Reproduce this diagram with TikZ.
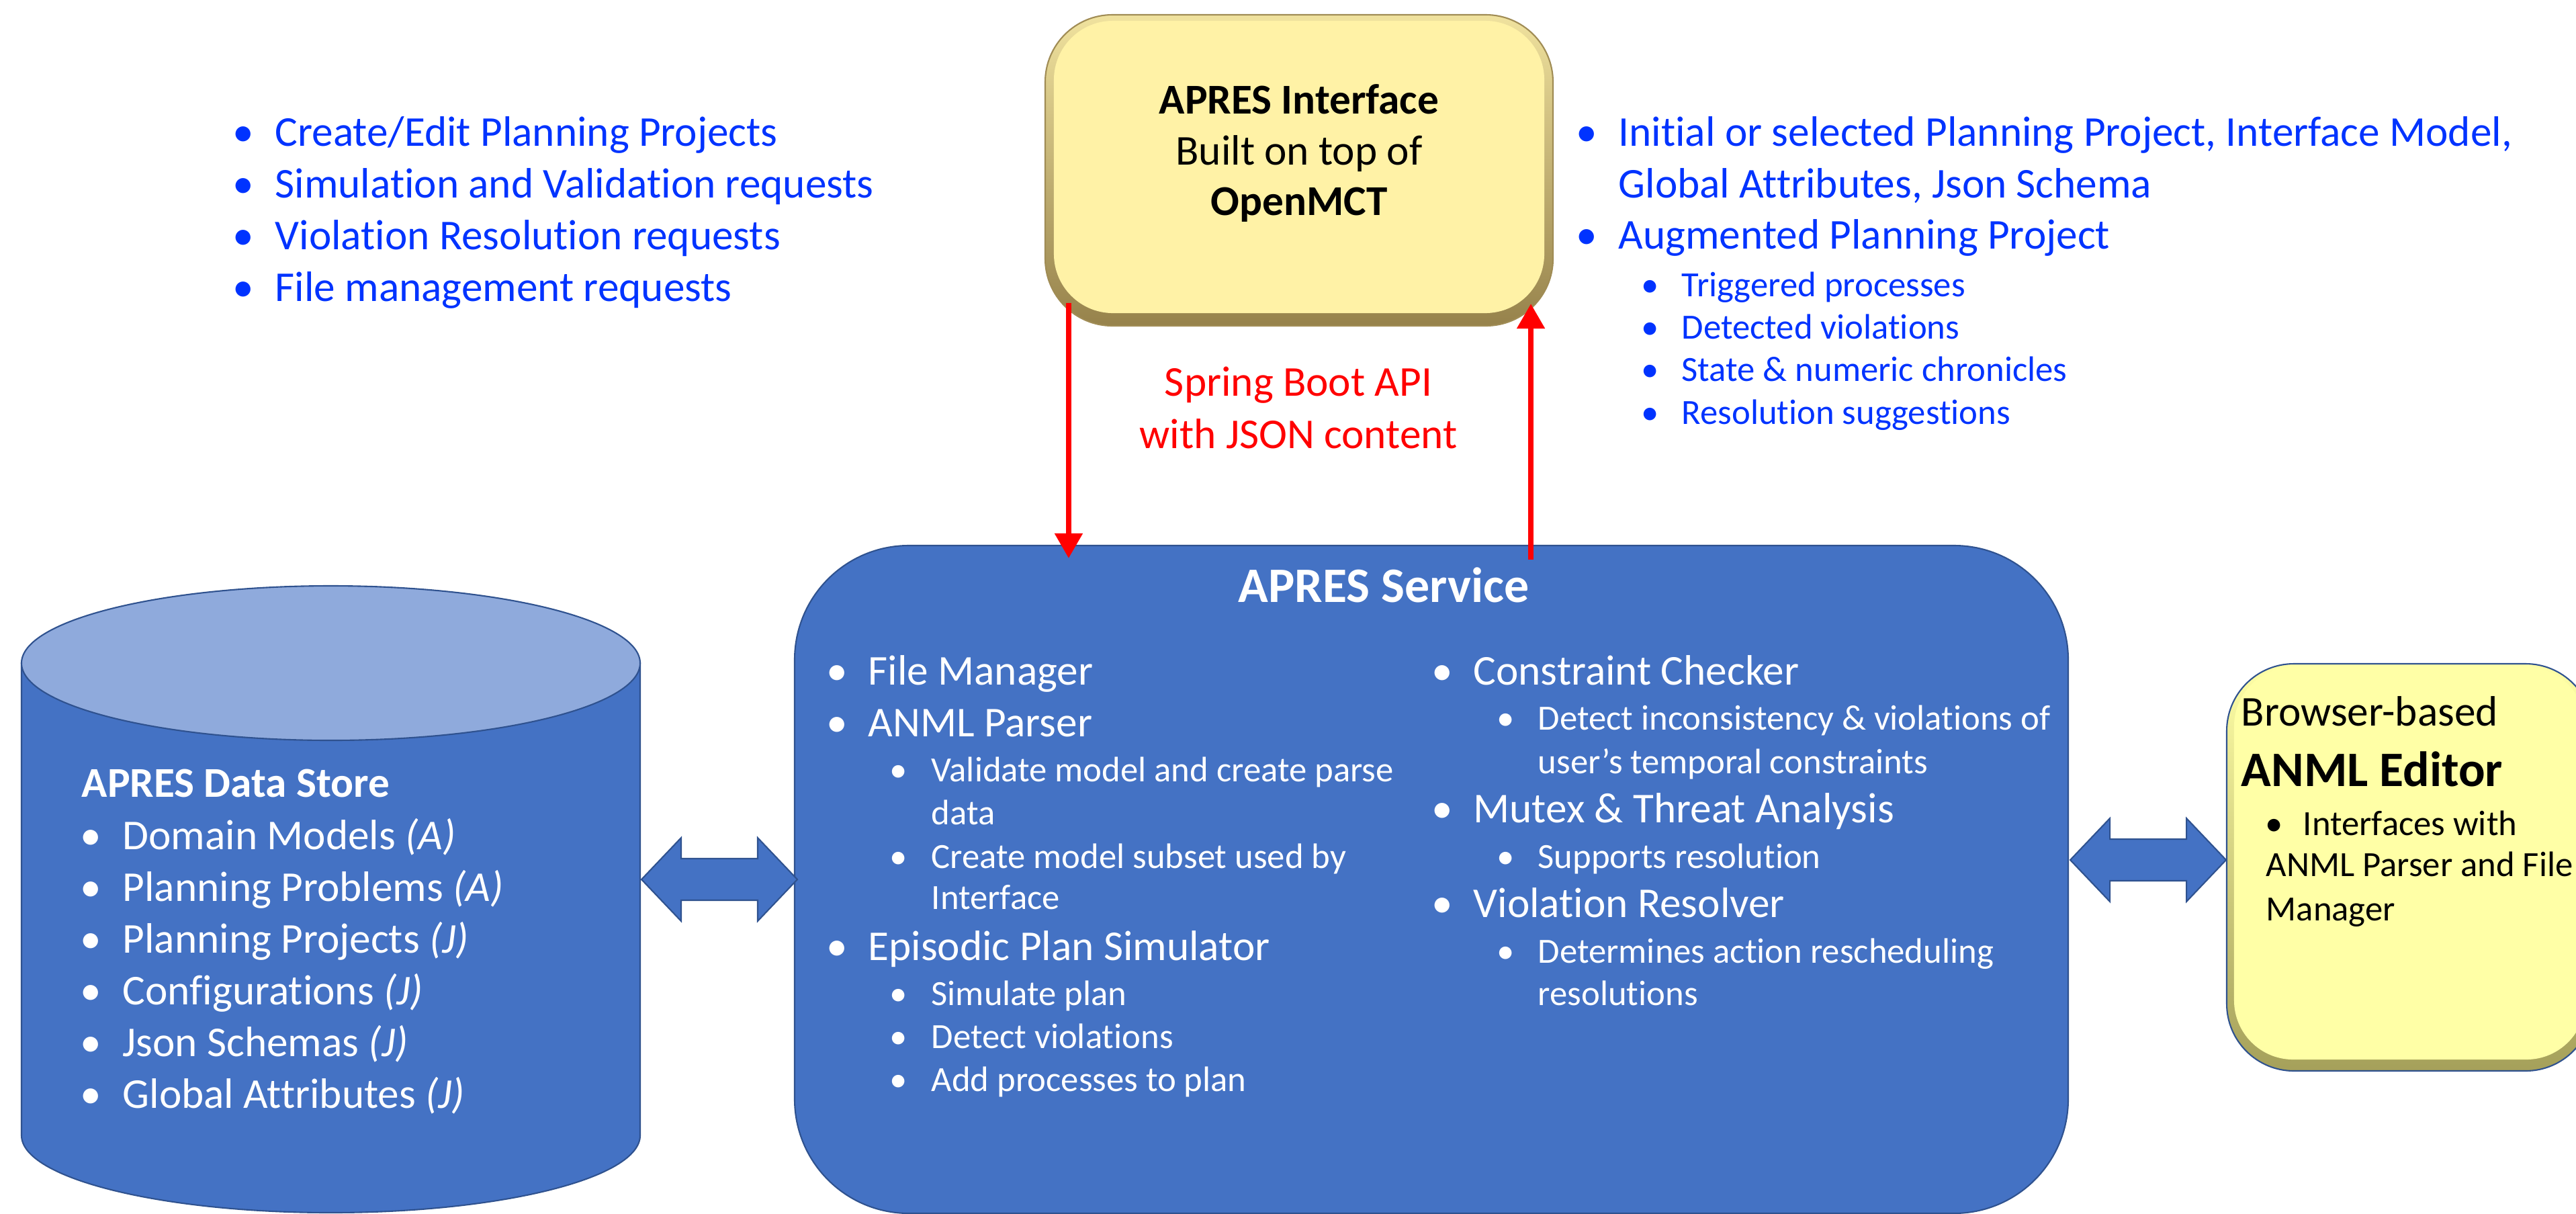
\documentclass[tikz,border=0pt]{standalone}
\usepackage{fontspec}
\setmainfont[Ligatures=NoCommon]{Carlito}
\usetikzlibrary{arrows.meta,calc}

\definecolor{svcblue}{RGB}{68,114,196}
\definecolor{svcline}{RGB}{47,82,143}
\definecolor{storetop}{RGB}{143,170,220}
\definecolor{reqblue}{RGB}{0,51,255}
\definecolor{ifacefill}{RGB}{255,242,166}
\definecolor{ifacerimtop}{RGB}{240,226,158}
\definecolor{ifacerimbot}{RGB}{150,130,75}
\definecolor{ifaceline}{RGB}{160,140,85}
\definecolor{editfill}{RGB}{255,255,166}
\definecolor{editrimbot}{RGB}{165,160,90}

\newcommand{\bul}[1]{\makebox[#1][l]{\textbullet}}

\tikzset{
  req/.style={anchor=base west, inner sep=0pt, text=reqblue, font=\fontsize{18}{22}\selectfont},
  subreq/.style={req, font=\fontsize{15}{18}\selectfont},
  svcitem/.style={anchor=base west, inner sep=0pt, text=white, font=\fontsize{18}{22}\selectfont},
  svcsub/.style={svcitem, font=\fontsize{15}{18}\selectfont},
  edititem/.style={anchor=base west, inner sep=0pt, font=\fontsize{15}{18}\selectfont},
  apiarrow/.style={draw=red, line width=2.3pt, -{Triangle[length=0.37cm,width=0.40cm]}},
  dblarrow/.pic={
    \filldraw[fill=svcblue, draw=svcline, line width=0.6pt] (0,0) -- (0.59,0.62) -- (0.59,0.31) -- (1.73,0.31) -- (1.73,0.62)
      -- (2.32,0) -- (1.73,-0.62) -- (1.73,-0.31) -- (0.59,-0.31) -- (0.59,-0.62) -- cycle;
  },
}

\begin{document}
\begin{tikzpicture}
  \useasboundingbox (0,0) rectangle (38.35,-18.06);

  % requests sent by the interface
  \foreach \t [count=\i from 0] in {Create/Edit Planning Projects, Simulation and Validation requests,
      Violation Resolution requests, File management requests}
    \node[req] (req\i) at (3.46,-2.17-0.77*\i) {\bul{0.63cm}\t};

  % interface box
  \node[draw=ifaceline, line width=0.6pt, rounded corners=1cm, top color=ifacerimtop, bottom color=ifacerimbot,
    minimum width=7.56cm, minimum height=4.63cm] (iface) at (19.34,-2.535) {};
  \fill[ifacefill, rounded corners=0.88cm] ($(iface.south west)+(0.14,0.2)$) rectangle ($(iface.north east)+(-0.14,-0.1)$);
  \node[align=center, font=\fontsize{18}{21.6}\selectfont] (ifacetext) at (19.34,-2.28)
    {\textbf{APRES Interface}\\Built on top of\\\textbf{OpenMCT}};

  % data returned to the interface
  \node[req] (resp1) at (23.46,-2.17) {\bul{0.63cm}Initial or selected Planning Project, Interface Model,};
  \node[req] (resp1b) at (24.09,-2.94) {Global Attributes, Json Schema};
  \node[req] (resp2) at (23.46,-3.70) {\bul{0.63cm}Augmented Planning Project};
  \node[subreq] (resp2a) at (24.43,-4.41) {\bul{0.60cm}Triggered processes};
  \node[subreq] (resp2b) at (24.43,-5.04) {\bul{0.60cm}Detected violations};
  \node[subreq] (resp2c) at (24.43,-5.67) {\bul{0.60cm}State \& numeric chronicles};
  \node[subreq] (resp2d) at (24.43,-6.31) {\bul{0.60cm}Resolution suggestions};

  % service box
  \node[draw=svcline, line width=0.6pt, fill=svcblue, rounded corners=1.7cm,
    minimum width=18.96cm, minimum height=9.94cm] (svc) at (21.31,-13.09) {};
  \node[text=white, font=\fontsize{21}{25}\selectfont\bfseries] (svctitle) at (20.60,-8.71) {APRES Service};

  % api
  \draw[apiarrow] ($(iface.south west)+(0.36,0.35)$) -- ($(iface.south west |- svc.north)+(0.36,-0.20)$);
  \draw[apiarrow] ($(iface.south east |- svc.north)+(-0.34,-0.22)$) -- ($(iface.south east)+(-0.34,0.34)$);
  \node[text=red, align=center, font=\fontsize{18}{22.2}\selectfont] (api) at (19.33,-6.07)
    {Spring Boot API\\with JSON content};

  % service components, left
  \node[svcitem] (fm) at (12.30,-10.19) {\bul{0.62cm}File Manager};
  \node[svcitem] (parser) at (12.30,-10.96) {\bul{0.62cm}ANML Parser};
  \node[svcsub] (parser1) at (13.24,-11.63) {\bul{0.62cm}Validate model and create parse};
  \node[svcsub] (parser1b) at (13.86,-12.27) {data};
  \node[svcsub] (parser2) at (13.24,-12.92) {\bul{0.62cm}Create model subset used by};
  \node[svcsub] (parser2b) at (13.86,-13.53) {Interface};
  \node[svcitem] (sim) at (12.30,-14.29) {\bul{0.62cm}Episodic Plan Simulator};
  \node[svcsub] (sim1) at (13.24,-14.96) {\bul{0.62cm}Simulate plan};
  \node[svcsub] (sim2) at (13.24,-15.60) {\bul{0.62cm}Detect violations};
  \node[svcsub] (sim3) at (13.24,-16.24) {\bul{0.62cm}Add processes to plan};

  % service components, right
  \node[svcitem] (cc) at (21.31,-10.19) {\bul{0.62cm}Constraint Checker};
  \node[svcsub] (cc1) at (22.28,-10.86) {\bul{0.61cm}Detect inconsistency \& violations of};
  \node[svcsub] (cc1b) at (22.89,-11.51) {user’s temporal constraints};
  \node[svcitem] (mutex) at (21.31,-12.24) {\bul{0.62cm}Mutex \& Threat Analysis};
  \node[svcsub] (mutex1) at (22.28,-12.92) {\bul{0.61cm}Supports resolution};
  \node[svcitem] (vr) at (21.31,-13.65) {\bul{0.62cm}Violation Resolver};
  \node[svcsub] (vr1) at (22.28,-14.33) {\bul{0.61cm}Determines action rescheduling};
  \node[svcsub] (vr1b) at (22.89,-14.96) {resolutions};

  % data store
  \filldraw[fill=svcblue, draw=svcline, line width=0.6pt] (0.32,-9.87) -- (0.32,-16.90)
    arc[start angle=180, end angle=360, x radius=4.605cm, y radius=1.15cm] -- (9.53,-9.87) -- cycle;
  \filldraw[fill=storetop, draw=svcline, line width=0.6pt] (4.925,-9.87) ellipse [x radius=4.605cm, y radius=1.15cm];
  \coordinate (store) at (9.55,-13.09);
  \node[svcitem, font=\fontsize{18}{22}\selectfont\bfseries] (storetitle) at (1.21,-11.86) {APRES Data Store};
  \foreach \t [count=\i from 0] in {Domain Models \textit{(A)}, Planning Problems \textit{(A)}, Planning Projects \textit{(J)},
      Configurations \textit{(J)}, Json Schemas \textit{(J)}, Global Attributes \textit{(J)}}
    \node[svcitem] (data\i) at (1.19,-12.64-0.77*\i) {\bul{0.63cm}\t};

  % editor box
  \node[draw=svcline, line width=0.6pt, rounded corners=1cm, top color=editfill, bottom color=editrimbot,
    minimum width=5.45cm, minimum height=6.06cm] (editor) at (35.875,-12.91) {};
  \fill[editfill, rounded corners=0.88cm] ($(editor.south west)+(0.12,0.18)$) rectangle ($(editor.north east)+(-0.12,-0.06)$);
  \node[anchor=base west, inner sep=0pt, font=\fontsize{18}{22}\selectfont] (editsub) at (33.36,-10.80) {Browser-based};
  \node[anchor=base west, inner sep=0pt, font=\fontsize{21}{25}\selectfont\bfseries] (edittitle) at (33.36,-11.70) {ANML Editor};
  \node[edititem] (edit1) at (33.72,-12.43) {\bul{0.56cm}Interfaces with};
  \node[edititem] (edit1b) at (33.73,-13.04) {ANML Parser and File};
  \node[edititem] (edit1c) at (33.73,-13.70) {Manager};

  % links
  \pic at (store) {dblarrow};
  \pic at ($(svc.east)+(0.02,0.29)$) {dblarrow};
\end{tikzpicture}
\end{document}
